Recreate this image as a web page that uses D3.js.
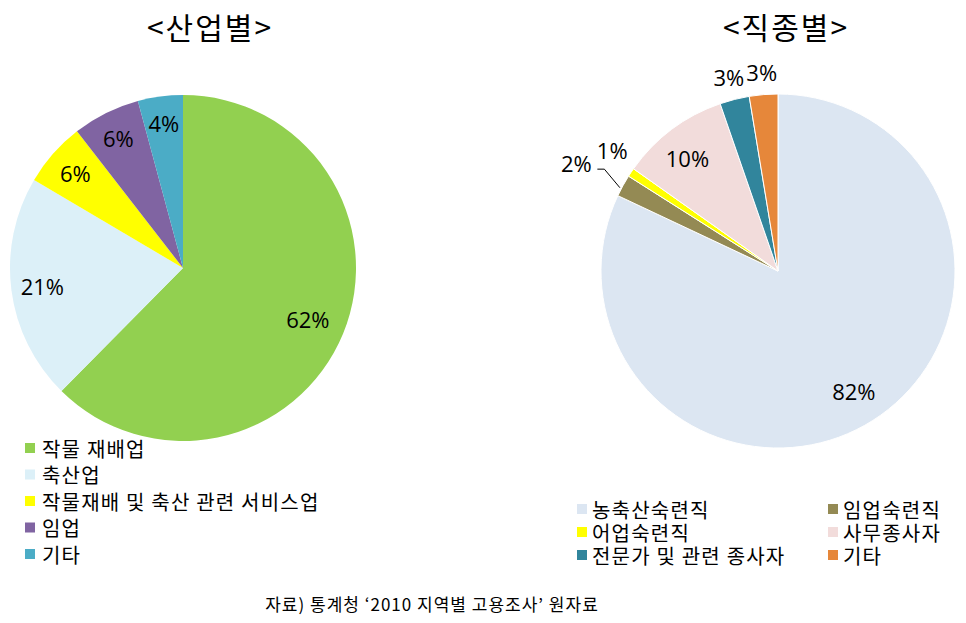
<!DOCTYPE html>
<html><head><meta charset="utf-8">
<script src="https://cdn.jsdelivr.net/npm/d3@7/dist/d3.min.js"></script>
<style>body{margin:0;background:#fff;} svg{display:block;}</style>
</head><body>
<svg id="c" width="966" height="623"></svg>
<script>
// ---- data ----
const industryCategories = ["작물 재배업", "축산업", "작물재배 및 축산 관련 서비스업", "임업", "기타"];
const industryValues = [62.4, 21.1, 6.0, 6.3, 4.2];
const industryColors = ["#92D050", "#DCF0F8", "#FFFF00", "#8064A2", "#4BACC6"];

const occupationCategories = ["농축산숙련직", "임업숙련직", "어업숙련직", "사무종사자", "전문가 및 관련 종사자", "기타"];
const occupationValues = [82.0, 2.0, 0.8, 9.9, 2.7, 2.6];
const occupationColors = ["#DCE6F2", "#948A54", "#FFFF00", "#F2DCDB", "#31859C", "#E6873A"];

const titles = ["<산업별>", "<직종별>"];
const sourceText = "자료) 통계청 ‘2010 지역별 고용조사’ 원자료";

const svg = d3.select("#c");
const korFont = "'Noto Sans CJK KR', 'Noto Sans', sans-serif";
const numFont = "'Open Sans', 'Noto Sans', sans-serif";

function drawPie(opts) {
  const {cx, cy, r, values, colors, stroke, labelR} = opts;
  const pie = d3.pie().sort(null).value(d => d);
  const arcs = pie(values);
  const arc = d3.arc().innerRadius(0).outerRadius(r);
  const g = svg.append("g").attr("transform", `translate(${cx},${cy})`);
  g.selectAll("path").data(arcs).join("path")
    .attr("d", arc)
    .attr("fill", (d, i) => colors[i])
    .attr("stroke", stroke ? "#fff" : "none")
    .attr("stroke-width", stroke ? 1 : 0);
  arcs.forEach((a, i) => {
    const lr = labelR[i];
    const mid = (a.startAngle + a.endAngle) / 2 + (lr.da || 0);
    const rr = r * lr.f;
    const x = Math.sin(mid) * rr + (lr.dx || 0);
    const y = -Math.cos(mid) * rr + (lr.dy || 0);
    g.append("text").attr("x", x).attr("y", y)
      .attr("text-anchor", "middle").attr("dominant-baseline", "central")
      .attr("font-family", numFont).attr("font-size", 22).attr("fill", "#000")
      .text(Math.round(values[i]) + "%");
    if (lr.leader) {
      const ex = Math.sin(mid) * r, ey = -Math.cos(mid) * r;
      g.append("path")
        .attr("d", `M${x + 21},${y + 6} L${x + 28},${y + 6} L${ex - 3},${ey + 2}`)
        .attr("fill", "none").attr("stroke", "#000").attr("stroke-width", 1);
    }
  });
}

drawPie({cx: 183, cy: 268, r: 173, values: industryValues, colors: industryColors, stroke: false,
  labelR: [{f: 0.78}, {f: 0.82}, {f: 0.83}, {f: 0.84}, {f: 0.845}]});

drawPie({cx: 778, cy: 271, r: 177, values: occupationValues, colors: occupationColors, stroke: true,
  labelR: [{f: 0.8}, {f: 1.3, leader: true, dy: 3}, {f: 1.16, da: 0.04}, {f: 0.82, da: -0.03}, {f: 1.13}, {f: 1.13}]});

// titles
[[210, 0], [786, 1]].forEach(([x, i]) => {
  svg.append("text").attr("x", x).attr("y", 26).attr("text-anchor", "middle").attr("dominant-baseline", "central")
    .attr("font-family", korFont).attr("font-size", 30).attr("font-weight", 400)
    .attr("letter-spacing", 2).attr("fill", "#000").text(titles[i]);
});

// left legend
industryCategories.forEach((c, i) => {
  const y = 448 + i * 26.5;
  svg.append("rect").attr("x", 25).attr("y", y - 5).attr("width", 10).attr("height", 10).attr("fill", industryColors[i]);
  svg.append("text").attr("x", 42).attr("y", y).attr("dominant-baseline", "central")
    .attr("font-family", korFont).attr("font-size", 20).attr("letter-spacing", 1.2).attr("fill", "#000").text(c);
});

// right legend (two columns, row-major)
occupationCategories.forEach((c, i) => {
  const col = i % 2, row = Math.floor(i / 2);
  const y = 509 + row * 23;
  const x = col === 0 ? 577 : 828;
  svg.append("rect").attr("x", x).attr("y", y - 5).attr("width", 10).attr("height", 10).attr("fill", occupationColors[i]);
  svg.append("text").attr("x", x + 15).attr("y", y).attr("dominant-baseline", "central")
    .attr("font-family", korFont).attr("font-size", 20).attr("letter-spacing", 1.2).attr("fill", "#000").text(c);
});

// source
svg.append("text").attr("x", 432).attr("y", 603).attr("text-anchor", "middle").attr("dominant-baseline", "central")
  .attr("font-family", korFont).attr("font-size", 17).attr("letter-spacing", 1).attr("fill", "#000").text(sourceText);
</script>
</body></html>
